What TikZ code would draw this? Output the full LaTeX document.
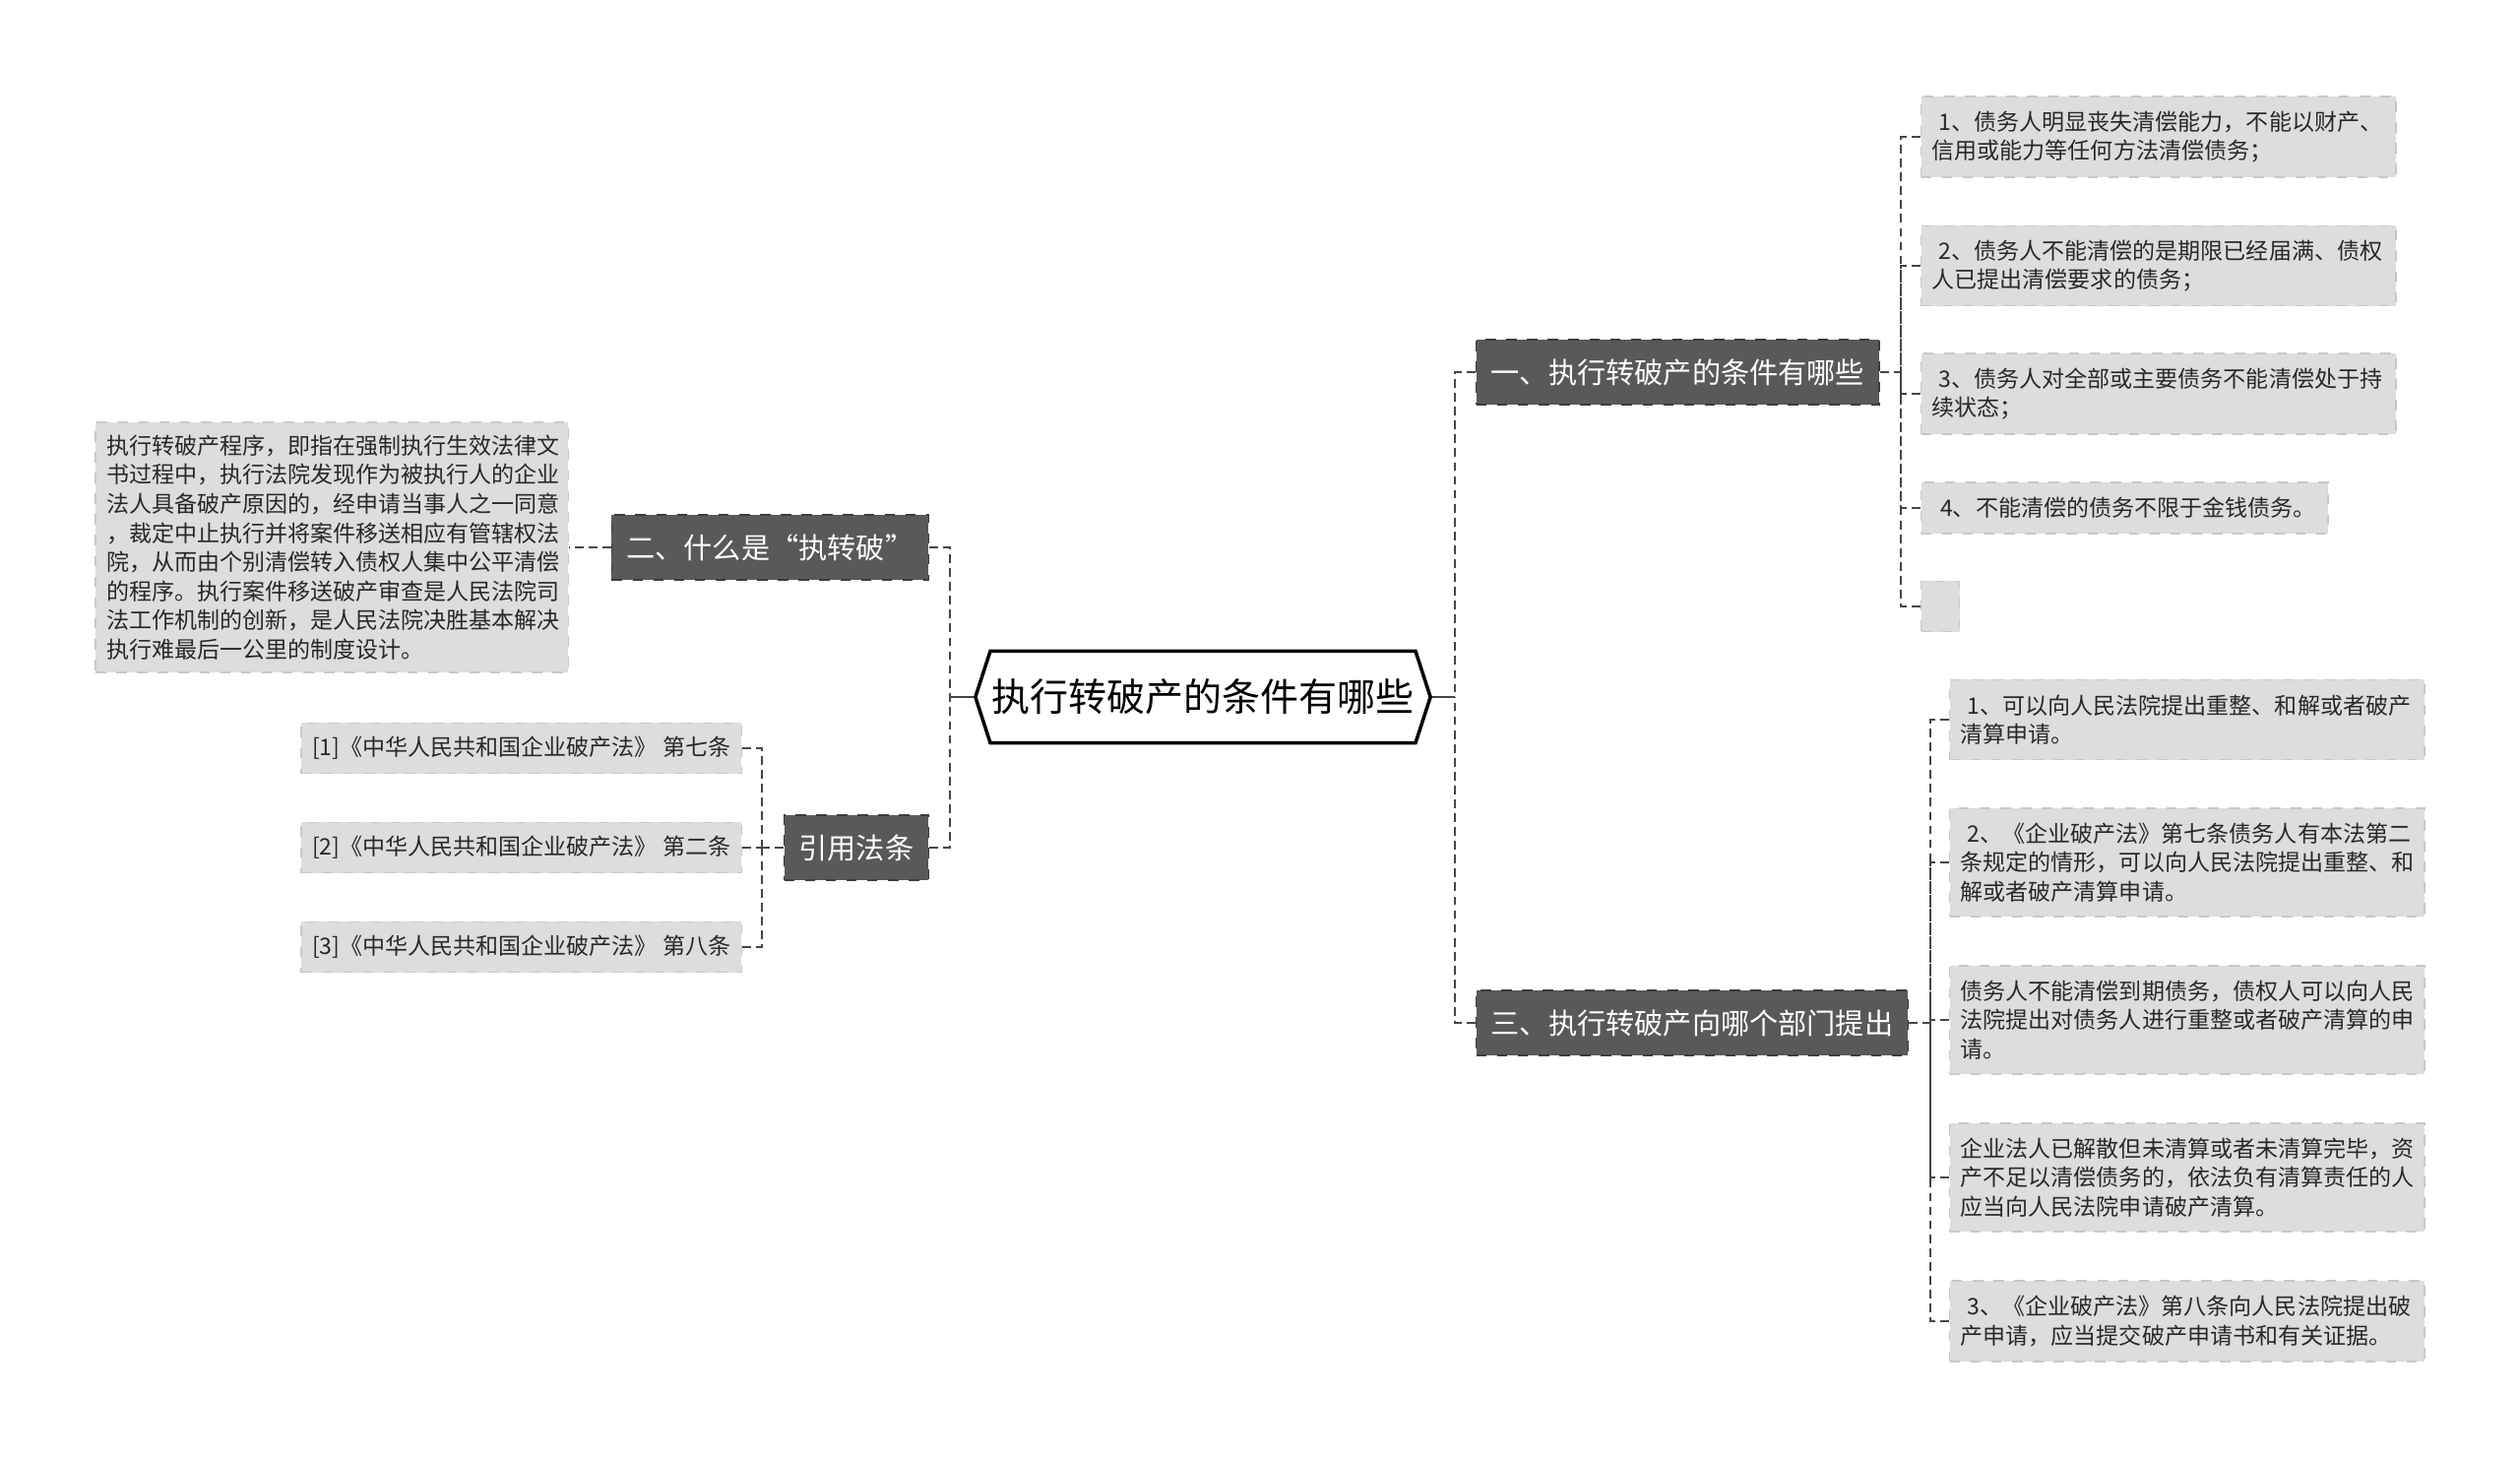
\documentclass[tikz,border=0pt]{standalone}
\usepackage{fontspec}
\usepackage{xcolor}
\usepackage{tikz}
\usetikzlibrary{shapes.symbols}
\newfontfamily\cjk{Noto Sans CJK SC}
\definecolor{branchfill}{RGB}{89,89,89}
\definecolor{branchline}{RGB}{60,60,60}
\definecolor{leaffill}{RGB}{221,221,221}
\definecolor{leafline}{RGB}{200,200,200}
\definecolor{leaftext}{RGB}{40,40,40}
\definecolor{linkcolor}{RGB}{70,70,70}

\begin{document}
\begin{tikzpicture}[x=0.01cm, y=-0.01cm,
      link/.style={draw=linkcolor, line width=0.5pt, dash pattern=on 2.5pt off 1.5pt},
      stub/.style={draw=linkcolor, line width=0.7pt},
      root/.style={signal, signal to=west and east, signal pointer angle=144,
        draw=black, line width=1pt, fill=white, minimum width=4.62cm,
        minimum height=0.93cm, inner sep=0pt,
        font=\cjk\fontsize{11.1}{13}\selectfont},
      branch/.style={fill=branchfill, draw=branchline, dashed, text=white,
        minimum height=0.66cm, inner xsep=0.15cm, inner ysep=0pt,
        font=\cjk\fontsize{8.3}{10}\selectfont},
      leaf/.style={fill=leaffill, draw=leafline, dashed, text=leaftext,
        align=left, inner xsep=0.11cm, inner ysep=0pt,
        font=\cjk\fontsize{6.55}{8.4}\selectfont}]
    \fill[white] (0,0) rectangle (2560,1483);

    % --- raiz ---
    \node[root] (root) at (1222,708) {执行转破产的条件有哪些};

    % --- ramos ---
    \node[branch, anchor=west] (cond) at (1499,378) {一、执行转破产的条件有哪些};
    \node[branch, anchor=west] (dept) at (1499,1039) {三、执行转破产向哪个部门提出};
    \node[branch, anchor=east] (what) at (944,556) {二、什么是“执转破”};
    \node[branch, anchor=east] (laws) at (944,861) {引用法条};

    % --- folhas: condicoes ---
    \node[leaf, anchor=west, text width=4.6cm, minimum height=0.82cm] (c1) at (1951,139)
         {\hspace{2pt}1、债务人明显丧失清偿能力，不能以财产、\\信用或能力等任何方法清偿债务；};
    \node[leaf, anchor=west, text width=4.6cm, minimum height=0.81cm] (c2) at (1951,270)
         {\hspace{2pt}2、债务人不能清偿的是期限已经届满、债权\\人已提出清偿要求的债务；};
    \node[leaf, anchor=west, text width=4.6cm, minimum height=0.82cm] (c3) at (1951,400)
         {\hspace{2pt}3、债务人对全部或主要债务不能清偿处于持\\续状态；};
    \node[leaf, anchor=west, minimum width=4.13cm, minimum height=0.52cm] (c4) at (1951,516)
         {\hspace{2pt}4、不能清偿的债务不限于金钱债务。};
    \node[leaf, anchor=west, minimum width=0.39cm, minimum height=0.51cm] (c5) at (1951,616) {};

    % --- folhas: departamento ---
    \node[leaf, anchor=west, text width=4.6cm, minimum height=0.81cm] (d1) at (1980,731)
         {\hspace{2pt}1、可以向人民法院提出重整、和解或者破产\\清算申请。};
    \node[leaf, anchor=west, text width=4.6cm, minimum height=1.10cm] (d2) at (1980,876)
         {\hspace{2pt}2、《企业破产法》第七条债务人有本法第二\\条规定的情形，可以向人民法院提出重整、和\\解或者破产清算申请。};
    \node[leaf, anchor=west, text width=4.6cm, minimum height=1.10cm] (d3) at (1980,1036)
         {债务人不能清偿到期债务，债权人可以向人民\\法院提出对债务人进行重整或者破产清算的申\\请。};
    \node[leaf, anchor=west, text width=4.6cm, minimum height=1.10cm] (d4) at (1980,1196)
         {企业法人已解散但未清算或者未清算完毕，资\\产不足以清偿债务的，依法负有清算责任的人\\应当向人民法院申请破产清算。};
    \node[leaf, anchor=west, text width=4.6cm, minimum height=0.82cm] (d5) at (1980,1342)
         {\hspace{2pt}3、《企业破产法》第八条向人民法院提出破\\产申请，应当提交破产申请书和有关证据。};

    % --- folhas: esquerda ---
    \node[leaf, anchor=east, text width=4.58cm, minimum height=2.54cm] (def) at (578,556)
         {执行转破产程序，即指在强制执行生效法律文\\书过程中，执行法院发现作为被执行人的企业\\法人具备破产原因的，经申请当事人之一同意\\，裁定中止执行并将案件移送相应有管辖权法\\院，从而由个别清偿转入债权人集中公平清偿\\的程序。执行案件移送破产审查是人民法院司\\法工作机制的创新，是人民法院决胜基本解决\\执行难最后一公里的制度设计。};
    \node[leaf, anchor=east, minimum width=4.47cm, minimum height=0.51cm] (l1) at (754,760)
         {[1]《中华人民共和国企业破产法》 第七条};
    \node[leaf, anchor=east, minimum width=4.47cm, minimum height=0.51cm] (l2) at (754,861)
         {[2]《中华人民共和国企业破产法》 第二条};
    \node[leaf, anchor=east, minimum width=4.47cm, minimum height=0.51cm] (l3) at (754,962)
         {[3]《中华人民共和国企业破产法》 第八条};

    % --- ligacoes ---
    \coordinate (rr) at (1478,708);
    \coordinate (rl) at (965,708);
    \coordinate (sc) at (1931,378);
    \coordinate (sd) at (1961,1039);
    \coordinate (sl) at (774,861);
    \draw[stub] (root.east) -- (rr);
    \draw[stub] (root.west) -- (rl);
    \draw[link] (cond.west) -| (rr);
    \draw[link] (dept.west) -| (rr);
    \draw[link] (what.east) -| (rl);
    \draw[link] (laws.east) -| (rl);
    \draw[link] (cond.east) -- (sc);
    \foreach \n in {c1,c2,c3,c4,c5}
      \draw[link] (\n.west) -| (sc);
    \draw[link] (dept.east) -- (sd);
    \foreach \n in {d1,d2,d3,d4,d5}
      \draw[link] (\n.west) -| (sd);
    \draw[link] (what.west) -- (def.east);
    \draw[link] (laws.west) -- (sl);
    \foreach \n in {l1,l2,l3}
      \draw[link] (\n.east) -| (sl);
  \end{tikzpicture}
\end{document}
